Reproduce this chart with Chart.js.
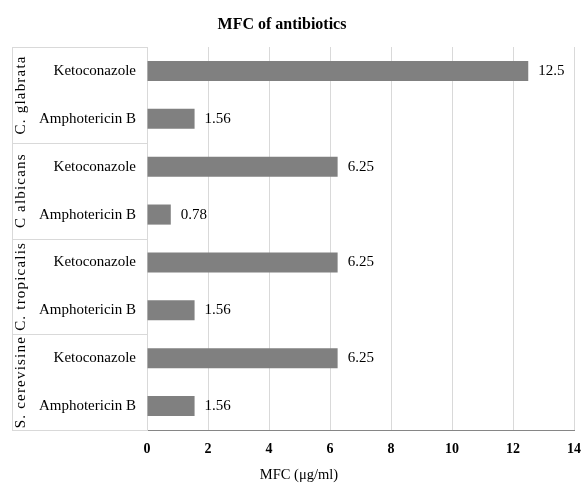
<!DOCTYPE html>
<html>
<head>
<meta charset="utf-8">
<script src="https://cdn.jsdelivr.net/npm/chart.js@4"></script>
<style>
  html, body { margin: 0; padding: 0; background: #fff; }
</style>
</head>
<body>
<canvas id="mfcChart" width="582" height="490"></canvas>
<script>
// data
const groups = ['C. glabrata', 'C albicans', 'C. tropicalis', 'S. cerevisine'];
const drugs = ['Ketoconazole', 'Amphotericin B'];
const ketoconazole = [12.5, 6.25, 6.25, 6.25];
const amphotericinB = [1.56, 0.78, 1.56, 1.56];
const xTicks = [0, 2, 4, 6, 8, 10, 12, 14];

const chartTitle = 'MFC of antibiotics';
const xTitle = 'MFC (μg/ml)';

// one row per drug, grouped per organism
const labels = [];
const values = [];
groups.forEach((g, i) => {
  labels.push(drugs[0]);
  values.push(ketoconazole[i]);
  labels.push(drugs[1]);
  values.push(amphotericinB[i]);
});

const serif = "'Liberation Serif', 'Times New Roman', serif";

// group column, value labels and titles
const extras = {
  id: 'extras',
  afterDraw(chart) {
    const ctx = chart.ctx;
    const area = chart.chartArea;
    const y = chart.scales.y;
    const left = 12;

    ctx.save();
    ctx.strokeStyle = '#d9d9d9';
    ctx.lineWidth = 1;
    ctx.beginPath();
    ctx.moveTo(left + 0.5, area.top);
    ctx.lineTo(left + 0.5, area.bottom);
    const bounds = [area.top];
    for (let i = 1; i < groups.length; i++) {
      bounds.push((y.getPixelForValue(2 * i - 1) + y.getPixelForValue(2 * i)) / 2);
    }
    bounds.push(area.bottom);
    bounds.forEach(b => {
      const yy = Math.round(b) + 0.5;
      ctx.moveTo(left, yy);
      ctx.lineTo(area.left, yy);
    });
    ctx.stroke();

    // organism names, rotated
    ctx.fillStyle = '#000';
    ctx.font = '15px ' + serif;
    ctx.textAlign = 'center';
    ctx.textBaseline = 'middle';
    groups.forEach((g, i) => {
      const cy = (y.getPixelForValue(2 * i) + y.getPixelForValue(2 * i + 1)) / 2;
      ctx.save();
      ctx.translate(21, cy);
      ctx.rotate(-Math.PI / 2);
      ctx.letterSpacing = '1.2px';
      ctx.fillText(g, 0, 0);
      ctx.restore();
    });

    // value labels
    ctx.textAlign = 'left';
    const meta = chart.getDatasetMeta(0);
    meta.data.forEach((bar, i) => {
      ctx.fillText(String(values[i]), bar.x + 10, bar.y);
    });

    // titles
    ctx.textAlign = 'center';
    ctx.font = 'bold 16px ' + serif;
    ctx.fillText(chartTitle, 282, 25);
    ctx.font = '14.5px ' + serif;
    ctx.fillText(xTitle, 299, 475);
    ctx.restore();
  }
};

new Chart(document.getElementById('mfcChart'), {
  type: 'bar',
  data: {
    labels: labels,
    datasets: [{
      data: values,
      backgroundColor: '#808080',
      borderWidth: 0,
      categoryPercentage: 1,
      barPercentage: 0.42
    }]
  },
  options: {
    indexAxis: 'y',
    responsive: false,
    animation: false,
    layout: { padding: { top: 47, left: 12, right: 8, bottom: 0 } },
    plugins: {
      legend: { display: false },
      title: { display: false },
      tooltip: { enabled: false }
    },
    scales: {
      x: {
        min: xTicks[0],
        max: xTicks[xTicks.length - 1],
        afterFit: s => {
          s.height = 60;
          s.paddingLeft = 0;
          s.paddingRight = 0;
        },
        afterBuildTicks: s => { s.ticks = xTicks.map(v => ({ value: v })); },
        grid: { color: '#d9d9d9', drawTicks: false },
        border: { color: '#868686' },
        ticks: {
          color: '#000',
          padding: 11,
          font: { family: serif, size: 14, weight: 'bold' }
        }
      },
      y: {
        afterFit: s => {
          s.width = 135;
          s.paddingTop = 0;
          s.paddingBottom = 0;
        },
        grid: { display: false, drawTicks: false },
        border: { color: '#d9d9d9' },
        ticks: {
          color: '#000',
          padding: 11,
          font: { family: serif, size: 15 }
        }
      }
    }
  },
  plugins: [extras]
});
</script>
</body>
</html>
